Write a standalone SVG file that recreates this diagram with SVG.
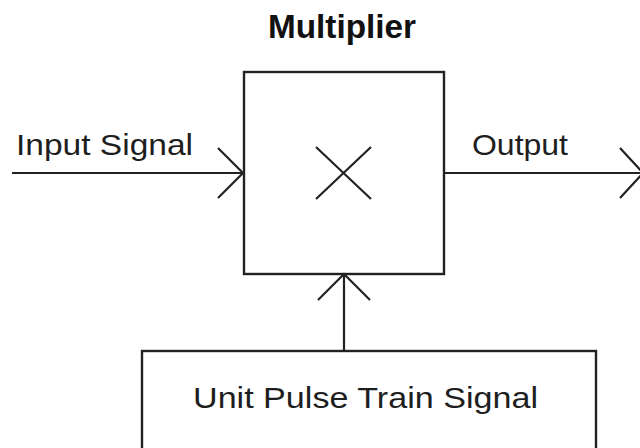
<svg xmlns="http://www.w3.org/2000/svg" width="640" height="448" viewBox="0 0 640 448">
<style>
.box{fill:#fff;stroke:#222;stroke-width:2.4}
.ln{fill:none;stroke:#222;stroke-width:2.2;stroke-linecap:butt;stroke-linejoin:miter}
.t{font-family:"Liberation Sans",Arial,sans-serif;font-size:29px;fill:#1e1e1e}
.title{font-family:"Liberation Sans",Arial,sans-serif;font-size:34px;font-weight:bold;fill:#111}
</style>
<rect width="640" height="448" fill="#fff"/>
<text class="title" x="268" y="38" textLength="148" lengthAdjust="spacingAndGlyphs">Multiplier</text>
<g id="multiplier">
<rect class="box" x="244" y="72" width="200" height="202"/>
<path class="ln" d="M316 147 L371 199 M371 147 L316 199"/>
</g>
<g id="pulse-train">
<rect class="box" x="142" y="351" width="454" height="110"/>
<text class="t" x="193" y="408" textLength="345" lengthAdjust="spacingAndGlyphs">Unit Pulse Train Signal</text>
</g>
<g id="connectors">
<path class="ln" d="M12 173 H244 M218 148 L243 173 L218 198"/>
<text class="t" x="16" y="155" textLength="177" lengthAdjust="spacingAndGlyphs">Input Signal</text>
<path class="ln" d="M444 173 H642 M620 148 L643 173 L620 198"/>
<text class="t" x="472" y="155" textLength="96" lengthAdjust="spacingAndGlyphs">Output</text>
<path class="ln" d="M344 351 V274 M318 300 L344 274 L370 300"/>
</g>
</svg>
